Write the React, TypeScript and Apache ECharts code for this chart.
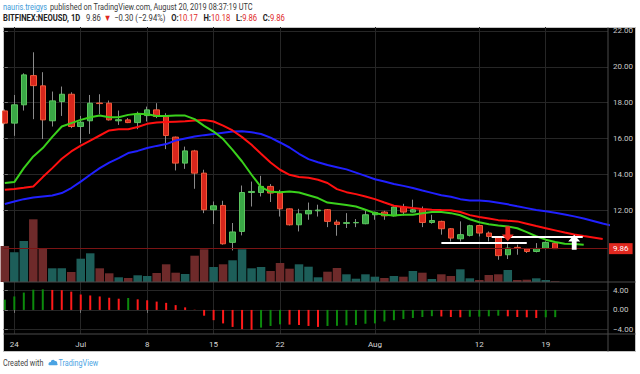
import React, { useEffect, useRef } from 'react';
import * as echarts from 'echarts';

// Day index 0 = 23 Jun 2019 ... index 58 = 20 Aug 2019 (BITFINEX:NEOUSD, 1D)
const opens = [17.54, 16.86, 17.88, 19.51, 18.94, 16.99, 18.06, 18.47, 16.67, 16.99, 17.98, 17.97, 16.99, 17.04, 16.89, 17.28, 17.60, 17.23, 16.08, 14.63, 15.31, 14.07, 12.03, 12.27, 10.21, 10.82, 12.99, 12.99, 13.33, 12.96, 12.08, 11.19, 11.80, 11.97, 12.03, 11.34, 11.27, 11.30, 11.25, 11.75, 11.90, 11.69, 12.18, 11.90, 12.03, 11.32, 11.38, 10.97, 10.41, 10.60, 11.15, 10.73, 10.48, 9.52, 9.93, 9.85, 9.70, 9.87, 10.17];
const highs = [17.62, 18.43, 19.64, 20.81, 19.70, 18.62, 18.90, 18.58, 17.26, 18.43, 18.47, 18.12, 17.56, 17.14, 17.50, 17.78, 17.97, 17.41, 16.11, 15.55, 15.37, 14.26, 12.49, 12.53, 11.29, 13.38, 13.60, 13.92, 13.46, 13.14, 12.10, 12.08, 12.43, 12.31, 12.07, 11.47, 11.84, 11.51, 12.07, 11.93, 11.97, 12.22, 12.36, 12.59, 12.21, 11.75, 11.42, 11.01, 11.38, 11.19, 11.19, 10.82, 10.54, 10.17, 10.08, 9.90, 10.17, 10.26, 10.18];
const lows = [16.80, 16.15, 17.56, 17.08, 15.97, 16.67, 17.26, 16.58, 15.74, 16.26, 17.36, 17.00, 16.76, 16.86, 16.52, 16.95, 17.14, 15.41, 14.22, 14.31, 13.20, 11.84, 11.23, 10.08, 9.76, 10.60, 12.21, 12.77, 12.46, 11.65, 11.15, 10.82, 11.47, 11.65, 11.06, 10.58, 11.01, 11.06, 11.22, 11.47, 11.47, 11.65, 11.71, 11.88, 11.06, 11.25, 10.64, 10.26, 10.26, 10.54, 10.54, 10.26, 9.24, 9.28, 9.52, 9.62, 9.65, 9.82, 9.86];
const closes = [16.86, 17.88, 19.55, 18.95, 17.04, 18.10, 18.47, 16.67, 16.91, 17.97, 17.95, 17.04, 17.05, 16.89, 17.36, 17.60, 17.23, 16.17, 14.63, 15.31, 14.07, 12.03, 12.25, 10.13, 10.79, 12.99, 13.05, 13.33, 12.96, 12.08, 11.19, 11.80, 11.99, 12.01, 11.38, 11.21, 11.31, 11.32, 11.75, 11.88, 11.69, 12.18, 11.90, 12.03, 11.32, 11.43, 10.97, 10.45, 10.64, 11.14, 10.73, 10.54, 9.47, 9.89, 9.87, 9.70, 9.87, 10.21, 9.86];
const volumes = [360, 297, 410, 627, 330, 137, 137, 100, 233, 287, 137, 87, 47, 40, 67, 60, 90, 177, 93, 80, 263, 327, 150, 177, 217, 327, 137, 150, 110, 190, 133, 177, 153, 47, 103, 140, 77, 33, 77, 53, 40, 60, 53, 110, 93, 30, 77, 60, 127, 37, 20, 70, 77, 120, 20, 23, 37, 20, 7];
// Alligator lines (displaced forward, so they run past the last candle)
const lips = [13.52, 13.57, 14.35, 15.00, 15.47, 16.09, 16.67, 16.86, 17.04, 17.19, 17.28, 17.19, 17.19, 17.32, 17.38, 17.36, 17.26, 17.26, 17.28, 17.28, 17.08, 16.71, 16.39, 15.97, 15.37, 14.72, 13.98, 13.29, 13.03, 13.01, 13.05, 12.99, 12.84, 12.68, 12.43, 12.36, 12.29, 12.21, 12.03, 11.84, 11.75, 11.71, 11.75, 11.75, 11.84, 11.90, 11.90, 11.84, 11.72, 11.50, 11.33, 11.22, 11.15, 11.10, 11.00, 10.78, 10.55, 10.36, 10.23, 10.13, 10.12, 10.08];
const teeth = [13.14, 13.18, 13.25, 13.33, 13.85, 14.35, 14.87, 15.28, 15.61, 15.89, 16.17, 16.45, 16.52, 16.52, 16.64, 16.82, 16.89, 16.92, 16.94, 16.96, 17.00, 17.03, 16.95, 16.72, 16.45, 16.08, 15.65, 15.15, 14.66, 14.26, 13.98, 13.85, 13.81, 13.70, 13.52, 13.18, 13.01, 12.90, 12.77, 12.62, 12.43, 12.25, 12.18, 12.12, 12.07, 12.03, 12.01, 12.00, 11.90, 11.73, 11.62, 11.54, 11.45, 11.41, 11.38, 11.25, 11.12, 11.00, 10.88, 10.76, 10.65, 10.56, 10.48, 10.40];
const jaw = [12.35, 12.49, 12.62, 12.71, 12.77, 12.82, 12.96, 13.24, 13.60, 13.98, 14.35, 14.66, 14.91, 15.19, 15.31, 15.47, 15.59, 15.69, 15.89, 16.00, 16.11, 16.19, 16.25, 16.32, 16.39, 16.41, 16.35, 16.25, 16.05, 15.78, 15.50, 15.15, 14.85, 14.68, 14.52, 14.40, 14.28, 14.10, 13.92, 13.73, 13.60, 13.47, 13.36, 13.24, 13.10, 12.97, 12.84, 12.75, 12.62, 12.55, 12.54, 12.50, 12.42, 12.33, 12.22, 12.12, 12.02, 11.94, 11.86, 11.76, 11.66, 11.54, 11.40, 11.26, 11.14, 11.04];
const ao = [2.13, 2.80, 3.60, 4.20, 4.27, 4.15, 4.10, 3.80, 3.20, 3.00, 2.80, 2.53, 2.33, 2.47, 2.20, 2.00, 1.73, 1.47, 1.00, 0.53, 0.05, -1.20, -2.13, -2.80, -3.53, -4.00, -4.13, -3.67, -3.33, -3.00, -3.05, -3.13, -3.33, -3.53, -3.33, -3.30, -3.20, -3.13, -2.87, -2.80, -2.40, -2.13, -1.87, -1.67, -1.47, -1.30, -1.36, -1.47, -1.53, -1.42, -1.40, -1.33, -1.20, -1.33, -1.47, -1.53, -1.67, -1.53, -1.50];

const dateTickIdx = [1, 8, 15, 22, 29, 39, 50, 57];
const dateTickLabels = ['24', 'Jul', '8', '15', '22', 'Aug', '12', '19'];
const priceTicks = [12, 14, 16, 18, 20, 22];
const aoTicks = [-4, 0, 4];
const lastPrice = 9.86;
const supportLines = [
  { from: 46, to: 55, price: 10.21 },
  { from: 51.3, to: 60.9, price: 10.54 },
];
const arrowMarks = [
  { idx: 53, price: 10.69, dir: 'down', color: '#ec2a20' },
  { idx: 60, price: 10.22, dir: 'up', color: '#ffffff' },
];

const ARROW = 'path://M5,0 L10,5.5 L7,5.5 L7,12 L3,12 L3,5.5 L0,5.5 Z';
const FONT = "Roboto, 'Noto Sans', sans-serif";
const GRID_LINE = '#262626';

const LogoShape = echarts.graphic.extendPath(
  'M0,7 C0,5 1.5,4 3,4.3 C3.5,1.5 7,0.5 8.5,3 C10.5,2.5 12,4 11.5,6 C12.5,6.3 12.5,8 11,8 L1,8 C0.4,8 0,7.5 0,7 Z',
  {}
);
echarts.graphic.registerShape('tvlogo', LogoShape);

const fmtNum = (v: number) => (v < 0 ? '\u2212' + Math.abs(v).toFixed(2) : v.toFixed(2));

export default function App() {
  const ref = useRef<HTMLDivElement>(null);

  useEffect(() => {
    if (!ref.current) return;
    const chart = echarts.init(ref.current, null, { renderer: 'svg' });

    const wickData = opens.map((o, i) => [i, o, closes[i], lows[i], highs[i]]);
    const bodyData = opens.map((o, i) => [i, o, closes[i], Math.min(o, closes[i]), Math.max(o, closes[i])]);
    const volData = volumes.map((v, i) => ({
      value: [i, v],
      itemStyle: { color: closes[i] >= opens[i] ? '#1d5e59' : '#6e2a2a' },
    }));
    const aoData = ao.map((v, i) => ({
      value: [i, v],
      itemStyle: { color: i === 0 || v >= ao[i - 1] ? '#0c8a0c' : '#ff1a1a' },
    }));

    const xCommon: any = {
      type: 'value',
      min: -0.14,
      max: 63.56,
      axisLine: { show: false },
      splitLine: { show: true, lineStyle: { color: GRID_LINE, width: 1 } },
      axisTick: { show: false, customValues: dateTickIdx },
      axisLabel: { show: false, customValues: dateTickIdx },
    };

    const option: any = {
      animation: false,
      backgroundColor: '#ffffff',
      grid: [
        { left: 3.5, top: 27, width: 604.5, height: 255 },
        { left: 3.5, top: 282, width: 604.5, height: 52 },
      ],
      xAxis: [
        { ...xCommon, gridIndex: 0 },
        {
          ...xCommon,
          gridIndex: 1,
          axisTick: { show: true, customValues: dateTickIdx, length: 3, lineStyle: { color: '#777' } },
          axisLabel: {
            show: true,
            customValues: dateTickIdx,
            formatter: (v: number) => {
              const k = dateTickIdx.indexOf(Math.round(v));
              return k >= 0 ? dateTickLabels[k] : '';
            },
            color: '#d8d8d8',
            fontSize: 8,
            margin: 6,
            fontFamily: FONT,
          },
        },
      ],
      yAxis: [
        {
          type: 'value',
          gridIndex: 0,
          position: 'right',
          min: 8,
          max: 22.22,
          axisLine: { show: false },
          axisTick: { show: true, length: 3, customValues: priceTicks, lineStyle: { color: '#777' } },
          axisLabel: { customValues: priceTicks, formatter: fmtNum, color: '#c8c8c8', fontSize: 8, margin: 5, fontFamily: FONT },
          splitLine: { show: true, lineStyle: { color: GRID_LINE } },
        },
        { type: 'value', gridIndex: 0, min: 0, max: 2550, show: false, splitLine: { show: false } },
        {
          type: 'value',
          gridIndex: 1,
          position: 'right',
          min: -5,
          max: 5.8,
          axisLine: { show: false },
          axisTick: { show: true, length: 3, customValues: aoTicks, lineStyle: { color: '#777' } },
          axisLabel: { customValues: aoTicks, formatter: fmtNum, color: '#c8c8c8', fontSize: 8, margin: 5, fontFamily: FONT },
          splitLine: { show: true, lineStyle: { color: GRID_LINE } },
        },
      ],
      graphic: [
        {
          type: 'rect',
          z: -1,
          silent: true,
          shape: { x: 3.5, y: 27.5, width: 632, height: 324 },
          style: { fill: '#000000', stroke: '#c4c4c4', lineWidth: 1 },
        },
        { type: 'line', silent: true, z: 5, shape: { x1: 3.5, y1: 282, x2: 635.5, y2: 282 }, style: { stroke: '#4a4a4a', lineWidth: 1 } },
        { type: 'line', silent: true, z: 5, shape: { x1: 3.5, y1: 334, x2: 635.5, y2: 334 }, style: { stroke: '#4a4a4a', lineWidth: 1 } },
        { type: 'line', silent: true, z: 5, shape: { x1: 608, y1: 27.5, x2: 608, y2: 351.5 }, style: { stroke: '#4a4a4a', lineWidth: 1 } },
        {
          type: 'text',
          x: 3,
          y: 7,
          silent: true,
          style: {
            text: '{a|nauris.treigys} {b|published on TradingView.com, August 20, 2019 08:37:19 UTC}',
            verticalAlign: 'middle',
            textVerticalAlign: 'middle',
            rich: {
              a: { fill: '#3d9ad8', fontSize: 9, fontFamily: FONT },
              b: { fill: '#3a3a3a', fontSize: 9, fontFamily: FONT },
            },
          },
          scaleX: 0.82,
        },
        {
          type: 'text',
          x: 3,
          y: 17.5,
          silent: true,
          style: {
            text: '{k|BITFINEX:NEOUSD, 1D}  {n|9.86} {r|\u25BC} {n|\u22120.30 (\u22122.94%)}  {k|O:}{r|10.17}  {k|H:}{r|10.18}  {k|L:}{r|9.86}  {k|C:}{r|9.86}',
            verticalAlign: 'middle',
            textVerticalAlign: 'middle',
            rich: {
              k: { fill: '#222', fontSize: 9, fontWeight: 'bold', fontFamily: FONT },
              n: { fill: '#333', fontSize: 9, fontFamily: FONT },
              r: { fill: '#e0281f', fontSize: 9, fontFamily: FONT },
            },
          },
          scaleX: 0.85,
        },
        {
          type: 'text',
          x: 3,
          y: 363,
          silent: true,
          style: {
            text: 'Created with',
            fill: '#444',
            fontSize: 8.5,
            fontFamily: FONT,
            verticalAlign: 'middle',
            textVerticalAlign: 'middle',
          },
          scaleX: 0.85,
        },
        { type: 'tvlogo', x: 48.5, y: 358.5, scaleX: 0.75, scaleY: 0.85, silent: true, style: { fill: '#4aa3e3' } },
        {
          type: 'text',
          x: 58.5,
          y: 363,
          silent: true,
          style: {
            text: 'TradingView',
            fill: '#4aa3e3',
            fontSize: 8.5,
            fontFamily: FONT,
            verticalAlign: 'middle',
            textVerticalAlign: 'middle',
          },
          scaleX: 0.85,
        },
      ],
      series: [
        {
          name: 'Volume',
          type: 'bar',
          xAxisIndex: 0,
          yAxisIndex: 1,
          barWidth: 8.5,
          data: volData,
          silent: true,
        },
        {
          name: 'Wicks',
          type: 'candlestick',
          xAxisIndex: 0,
          yAxisIndex: 0,
          barWidth: 1,
          data: wickData,
          silent: true,
          itemStyle: { color: '#8a8a8a', color0: '#8a8a8a', borderColor: '#8a8a8a', borderColor0: '#8a8a8a', borderWidth: 1 },
        },
        {
          name: 'NEOUSD',
          type: 'candlestick',
          xAxisIndex: 0,
          yAxisIndex: 0,
          barWidth: 6,
          data: bodyData,
          silent: true,
          itemStyle: { color: '#3aa846', color0: '#d9261c', borderColor: '#5cc55f', borderColor0: '#ef5a3a', borderWidth: 1 },
        },
        {
          name: 'Jaw',
          type: 'line',
          xAxisIndex: 0,
          yAxisIndex: 0,
          symbol: 'none',
          data: jaw.map((v, i) => [i, v]),
          lineStyle: { color: '#2020ff', width: 2 },
          silent: true,
        },
        {
          name: 'Teeth',
          type: 'line',
          xAxisIndex: 0,
          yAxisIndex: 0,
          symbol: 'none',
          data: teeth.map((v, i) => [i, v]),
          lineStyle: { color: '#ff1010', width: 2 },
          silent: true,
        },
        {
          name: 'Lips',
          type: 'line',
          xAxisIndex: 0,
          yAxisIndex: 0,
          symbol: 'none',
          data: lips.map((v, i) => [i, v]),
          lineStyle: { color: '#3ad11c', width: 2 },
          silent: true,
          markLine: {
            silent: true,
            symbol: ['none', 'none'],
            animation: false,
            label: { show: false },
            data: [
              {
                yAxis: lastPrice,
                lineStyle: { color: '#7a1414', width: 1, type: 'solid' },
                label: {
                  show: true,
                  position: 'end',
                  formatter: lastPrice.toFixed(2),
                  color: '#ffffff',
                  backgroundColor: '#e0281f',
                  padding: [2, 4, 1, 4],
                  fontSize: 8,
                  distance: 1,
                  fontFamily: FONT,
                },
              },
              ...supportLines.map((h) => [
                { coord: [h.from, h.price], lineStyle: { color: '#ffffff', width: 2, type: 'solid' }, label: { show: false } },
                { coord: [h.to, h.price] },
              ]),
            ],
          },
          markPoint: {
            silent: true,
            z: 10,
            label: { show: false },
            data: arrowMarks.map((a) => ({
              coord: [a.idx, a.price],
              symbol: ARROW,
              symbolSize: [12, 15],
              symbolRotate: a.dir === 'down' ? 180 : 0,
              itemStyle: { color: a.color },
            })),
          },
        },
        {
          name: 'AO',
          type: 'bar',
          xAxisIndex: 1,
          yAxisIndex: 2,
          barWidth: 2,
          data: aoData,
          silent: true,
        },
      ],
    };

    chart.setOption(option);
    return () => chart.dispose();
  }, []);

  return <div ref={ref} style={{ position: 'fixed', left: 0, top: 0, width: 640, height: 374 }} />;
}
